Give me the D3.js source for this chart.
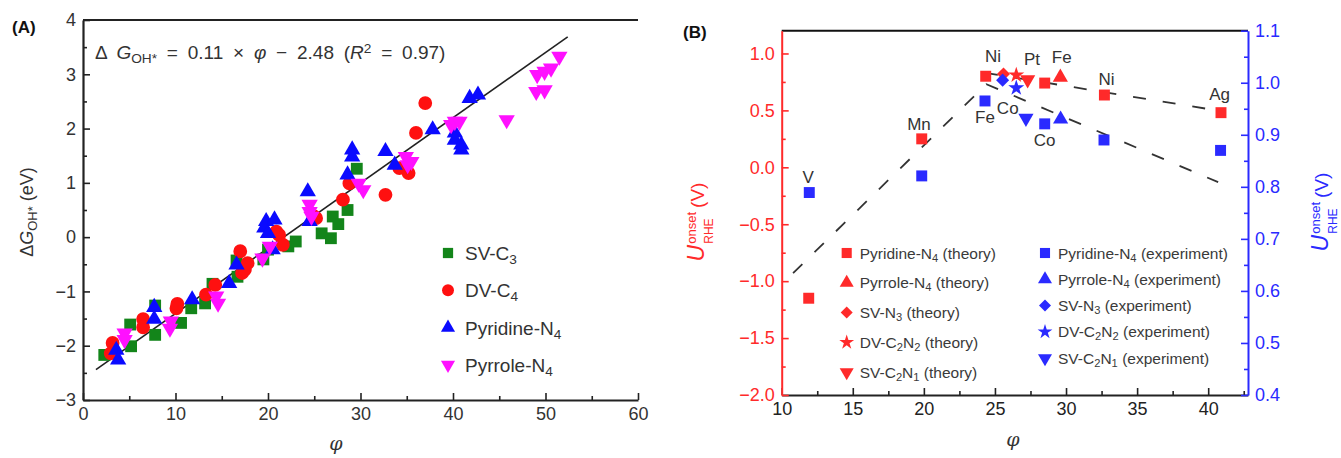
<!DOCTYPE html>
<html lang="en">
<head>
<meta charset="UTF-8">
<script src="https://cdnjs.cloudflare.com/ajax/libs/d3/7.8.5/d3.min.js"></script>
<title>Volcano</title>
<style>
  body { margin: 0; background: #fff; }
  svg { font-family: 'Liberation Sans', Arial, sans-serif; }
  .tick text { font-size: 18px; }
</style>
</head>
<body>
<svg></svg>
<script>
// ---- panel A data: [phi, dG_OH]
const svC3 = [[2.3,-2.17],[5.1,-1.61],[5.2,-2.01],[7.8,-1.8],[7.8,-1.26],[10.6,-1.58],[11.7,-1.31],[13.2,-1.22],
  [14.0,-0.86],[16.6,-0.43],[16.7,-0.73],[19.5,-0.41],[20.0,-0.23],[22.2,-0.17],[23.0,-0.08],[25.8,0.07],
  [26.8,-0.02],[27.0,0.38],[27.6,0.24],[28.6,0.5],[29.6,1.26]]
const dvC4 = [[3.0,-2.14],[3.2,-1.95],[6.5,-1.51],[6.5,-1.66],[10.1,-1.31],[10.2,-1.23],[13.3,-1.06],[14.3,-0.88],
  [17.0,-0.26],[17.2,-0.66],[17.5,-0.6],[17.8,-0.48],[20.9,0.1],[21.2,0.04],[21.6,-0.14],[25.0,0.38],[25.2,0.35],
  [28.1,0.69],[28.8,0.99],[32.7,0.78],[34.2,1.27],[35.2,1.18],[36.0,1.92],[37.0,2.47]]
const pyridineN4 = [[3.6,-2.08],[3.8,-2.26],[7.7,-1.29],[7.7,-1.51],[11.8,-1.15],[15.8,-0.85],[16.6,-0.51],[19.6,0.17],
  [19.8,0.29],[20.0,0.07],[20.5,-0.23],[20.7,0.32],[24.3,0.84],[24.5,0.29],[28.6,1.15],[29.1,1.48],[29.1,1.61],
  [32.7,1.58],[33.7,1.33],[37.8,1.98],[40.2,1.92],[40.2,1.79],[40.9,1.7],[40.9,1.61],[41.8,2.56],[42.7,2.62]]
const pyrroleN4 = [[4.5,-1.77],[4.5,-1.89],[9.4,-1.68],[9.5,-1.55],[14.4,-1.09],[14.6,-1.22],[19.4,-0.39],[20.2,-0.17],
  [24.5,0.6],[24.5,0.47],[24.7,0.38],[29.8,0.99],[30.3,0.87],[34.9,1.48],[35.1,1.33],[35.5,1.39],[39.8,2.07],
  [40.2,2.13],[40.7,2.13],[45.8,2.16],[49.0,2.68],[49.1,2.99],[49.9,2.71],[49.9,3.05],[50.6,3.11],[51.5,3.33]]
const fitLine = [[1.4,-2.44],[52.4,3.69]]
const xTicksA = [0,10,20,30,40,50,60]
const yTicksA = [-3,-2,-1,0,1,2,3,4]

// ---- panel B data: [phi, U]  theory on left axis, experiment on right axis
const thPyridine = [[11.9,-1.15],[19.85,0.25],[24.35,0.80],[28.5,0.74],[32.7,0.635],[40.9,0.48]]
const thPyrrole = [[29.6,0.79]]
const thSVN3 = [[25.6,0.82]]
const thDVC2N2 = [[26.5,0.81]]
const thSVC2N1 = [[27.3,0.77]]
const exPyridine = [[11.94,0.789],[19.85,0.821],[24.3,0.965],[28.5,0.921],[32.67,0.89],[40.87,0.87]]
const exPyrrole = [[29.62,0.93]]
const exSVN3 = [[25.54,1.005]]
const exDVC2N2 = [[26.5,0.99]]
const exSVC2N1 = [[27.18,0.932]]
const trendLower = [[10.8,-0.93],[24.4,0.73],[40.7,-0.13]]
const trendUpper = [[24.3,0.83],[40.6,0.50]]
const metalLabels = [['V',11.86,-0.137],['Mn',19.66,0.327],['Fe',24.3,0.39],['Ni',24.86,0.928],['Co',25.9,0.47],
  ['Pt',27.6,0.9],['Fe',29.7,0.916],['Co',28.5,0.188],['Ni',32.85,0.723],['Ag',40.8,0.59]]
const xTicksB = [10,15,20,25,30,35,40]
const yTicksBL = [-2,-1.5,-1,-0.5,0,0.5,1]
const yTicksBR = [0.4,0.5,0.6,0.7,0.8,0.9,1.0,1.1]

const svg = d3.select('svg').attr('width', 1341).attr('height', 458)

// text with sub/superscripts; parts = [text, 'sub'|'sup'|'', italic]
function rich(t, parts) {
  parts.forEach(p => {
    const s = t.append('tspan').text(p[0])
    if (p[1] === 'sub') s.attr('baseline-shift', '-30%').attr('font-size', '72%')
    if (p[1] === 'sup') s.attr('baseline-shift', '45%').attr('font-size', '72%')
    if (p[2]) s.attr('font-style', 'italic')
  })
  return t
}

function axis(g, make, scale, majors, minors, fmt, color, width) {
  const gMin = g.append('g').call(make(scale).tickValues(minors).tickSizeInner(-4).tickSizeOuter(0).tickFormat(''))
  gMin.select('.domain').remove()
  const gMaj = g.append('g').call(make(scale).tickValues(majors).tickSizeInner(-7).tickSizeOuter(0).tickPadding(7).tickFormat(fmt))
  g.selectAll('line').attr('stroke', color).attr('stroke-width', 1.6)
  gMaj.select('.domain').attr('stroke', color).attr('stroke-width', width)
  gMaj.selectAll('text').attr('fill', color)
}

const sym = (type, size) => d3.symbol().type(type).size(size)()

// ================= Panel A =================
const xA = d3.scaleLinear().domain([0, 60]).range([83, 638])
const yA = d3.scaleLinear().domain([-3, 4]).range([400, 20])
const gA = svg.append('g')

gA.append('line').attr('x1', xA(0)).attr('x2', xA(60)).attr('y1', yA(4)).attr('y2', yA(4))
  .attr('stroke', '#222').attr('stroke-width', 2)
axis(gA.append('g').attr('transform', `translate(0,${yA(-3)})`), d3.axisBottom, xA, xTicksA,
  d3.range(5, 60, 10), d3.format('d'), '#222', 2.2)
axis(gA.append('g').attr('transform', `translate(${xA(0)},0)`), d3.axisLeft, yA, yTicksA,
  d3.range(-2.5, 4, 1), d3.format('d'), '#222', 2.2)
gA.selectAll('.tick text').attr('fill', '#333')

gA.append('line')
  .attr('x1', xA(fitLine[0][0])).attr('y1', yA(fitLine[0][1]))
  .attr('x2', xA(fitLine[1][0])).attr('y2', yA(fitLine[1][1]))
  .attr('stroke', '#222').attr('stroke-width', 1.6)

const seriesA = [
  { name: [['SV-C',''],['3','sub']], data: svC3, color: '#13851a', type: d3.symbolSquare, size: 140, rot: 0 },
  { name: [['DV-C',''],['4','sub']], data: dvC4, color: '#ff1010', type: d3.symbolCircle, size: 150, rot: 0 },
  { name: [['Pyridine-N',''],['4','sub']], data: pyridineN4, color: '#0a0aff', type: d3.symbolTriangle, size: 115, rot: 0 },
  { name: [['Pyrrole-N',''],['4','sub']], data: pyrroleN4, color: '#ff10ff', type: d3.symbolTriangle, size: 115, rot: 180 }
]
seriesA.forEach(s => {
  gA.append('g').selectAll('path').data(s.data).enter().append('path')
    .attr('d', sym(s.type, s.size))
    .attr('transform', d => `translate(${xA(d[0])},${yA(d[1])}) rotate(${s.rot})`)
    .attr('fill', s.color)
})
// legend A
seriesA.forEach((s, i) => {
  const y = 253 + i * 37.3
  gA.append('path').attr('d', sym(s.type, s.size * 0.75))
    .attr('transform', `translate(448,${y}) rotate(${s.rot})`).attr('fill', s.color)
  rich(gA.append('text').attr('x', 465).attr('y', y + 7).attr('font-size', 19).attr('fill', '#333'), s.name)
})

rich(gA.append('text').attr('x', 95).attr('y', 59).attr('font-size', 19).attr('word-spacing', 4.5).attr('fill', '#333'),
  [['Δ ',''],['G','',1],['OH*','sub'],[' = 0.11 × ',''],['φ','',1],[' − 2.48 (',''],['R','',1],['2','sup'],[' = 0.97)','']])

gA.append('text').attr('x', 12).attr('y', 33).attr('font-size', 17).attr('font-weight', 'bold').attr('fill', '#111').text('(A)')
gA.append('text').attr('x', 336).attr('y', 450).attr('font-size', 19).attr('font-style', 'italic')
  .attr('font-family', 'DejaVu Serif, serif').attr('text-anchor', 'middle').attr('fill', '#333').text('φ')
rich(gA.append('text').attr('transform', 'translate(33,212) rotate(-90)').attr('text-anchor', 'middle')
  .attr('font-size', 18).attr('fill', '#333'),
  [['Δ',''],['G','',1],['OH*','sub'],[' (eV)','']])

// ================= Panel B =================
const xB = d3.scaleLinear().domain([10, 42.8]).range([781.7, 1248])
const yL = d3.scaleLinear().domain([-2, 1.2]).range([395, 30.7])
const yR = d3.scaleLinear().domain([0.4, 1.1]).range([395, 30.7])
const gB = svg.append('g')
const RED = '#ff2a2a', BLUE = '#2a2aff'

gB.append('line').attr('x1', xB(10)).attr('x2', xB(42.8)).attr('y1', yL(1.2)).attr('y2', yL(1.2))
  .attr('stroke', '#111').attr('stroke-width', 2)
axis(gB.append('g').attr('transform', `translate(0,${yL(-2)})`), d3.axisBottom, xB, xTicksB,
  d3.range(12.5, 43, 5), d3.format('d'), '#222', 2)
axis(gB.append('g').attr('transform', `translate(${xB(10)},0)`), d3.axisLeft, yL, yTicksBL,
  d3.range(-1.75, 1, 0.5), d3.format('.1f'), RED, 2)
axis(gB.append('g').attr('transform', `translate(${xB(42.8)},0)`), d3.axisRight, yR, yTicksBR,
  d3.range(0.45, 1.1, 0.1), d3.format('.1f'), BLUE, 2)

const line = (ys) => d3.line().x(d => xB(d[0])).y(d => ys(d[1]))
;[trendLower, trendUpper].forEach(t => {
  gB.append('path').attr('d', line(yL)(t)).attr('fill', 'none')
    .attr('stroke', '#333').attr('stroke-width', 1.8).attr('stroke-dasharray', '13,17')
})

const shapes = [
  { label: 'Pyridine-N', sub: '4', rest: '', type: d3.symbolSquare, size: 120, rot: 0 },
  { label: 'Pyrrole-N', sub: '4', rest: '', type: d3.symbolTriangle, size: 100, rot: 0 },
  { label: 'SV-N', sub: '3', rest: '', type: d3.symbolSquare, size: 85, rot: 45 },
  { label: 'DV-C', sub: '2', rest: 'N', sub2: '2', type: d3.symbolStar, size: 80, rot: 0 },
  { label: 'SV-C', sub: '2', rest: 'N', sub2: '1', type: d3.symbolTriangle, size: 100, rot: 180 }
]
const theory = [thPyridine, thPyrrole, thSVN3, thDVC2N2, thSVC2N1]
const expt = [exPyridine, exPyrrole, exSVN3, exDVC2N2, exSVC2N1]

function drawB(sets, ys, color) {
  sets.forEach((data, i) => {
    const s = shapes[i]
    gB.append('g').selectAll('path').data(data).enter().append('path')
      .attr('d', sym(s.type, s.size))
      .attr('transform', d => `translate(${xB(d[0])},${ys(d[1])}) rotate(${s.rot})`)
      .attr('fill', color)
  })
}
drawB(theory, yL, RED)
drawB(expt, yR, BLUE)

gB.selectAll('text.metal').data(metalLabels).enter().append('text')
  .attr('x', d => xB(d[1])).attr('y', d => yL(d[2])).attr('text-anchor', 'middle')
  .attr('font-size', 17).attr('fill', '#333').text(d => d[0])

function legendB(x, y0, dy, color, tag) {
  shapes.forEach((s, i) => {
    const y = y0 + i * dy
    gB.append('path').attr('d', sym(s.type, s.size * 0.85))
      .attr('transform', `translate(${x},${y}) rotate(${s.rot})`).attr('fill', color)
    const parts = [[s.label, ''], [s.sub, 'sub']]
    if (s.rest) parts.push([s.rest, ''], [s.sub2, 'sub'])
    parts.push([' (' + tag + ')', ''])
    rich(gB.append('text').attr('x', x + 13).attr('y', y + 5.5).attr('font-size', 15.5).attr('fill', '#3a3a3a'), parts)
  })
}
legendB(846.7, 253, 29.8, RED, 'theory')
legendB(1045, 253, 26.3, BLUE, 'experiment')

function uLabel(cx, cy, color) {
  const g = gB.append('g').attr('transform', `translate(${cx},${cy}) rotate(-90)`).attr('fill', color)
  const u = g.append('text').attr('font-size', 23).attr('font-style', 'italic').text('U')
  const wU = u.node().getComputedTextLength() + 1
  const on = g.append('text').attr('x', wU).attr('y', -8).attr('font-size', 13).text('onset')
  const rhe = g.append('text').attr('x', wU).attr('y', 9).attr('font-size', 12).text('RHE')
  const w2 = Math.max(on.node().getComputedTextLength(), rhe.node().getComputedTextLength())
  const v = g.append('text').attr('x', wU + w2 + 4).attr('font-size', 19).text('(V)')
  const total = wU + w2 + 4 + v.node().getComputedTextLength()
  g.selectAll('text').attr('transform', `translate(${-total / 2},0)`)
}
uLabel(704, 222, RED)
uLabel(1328, 212, BLUE)

gB.append('text').attr('x', 683).attr('y', 38).attr('font-size', 17).attr('font-weight', 'bold').attr('fill', '#111').text('(B)')
gB.append('text').attr('x', 1013).attr('y', 446).attr('font-size', 19).attr('font-style', 'italic')
  .attr('font-family', 'DejaVu Serif, serif').attr('text-anchor', 'middle').attr('fill', '#333').text('φ')
</script>
</body>
</html>
